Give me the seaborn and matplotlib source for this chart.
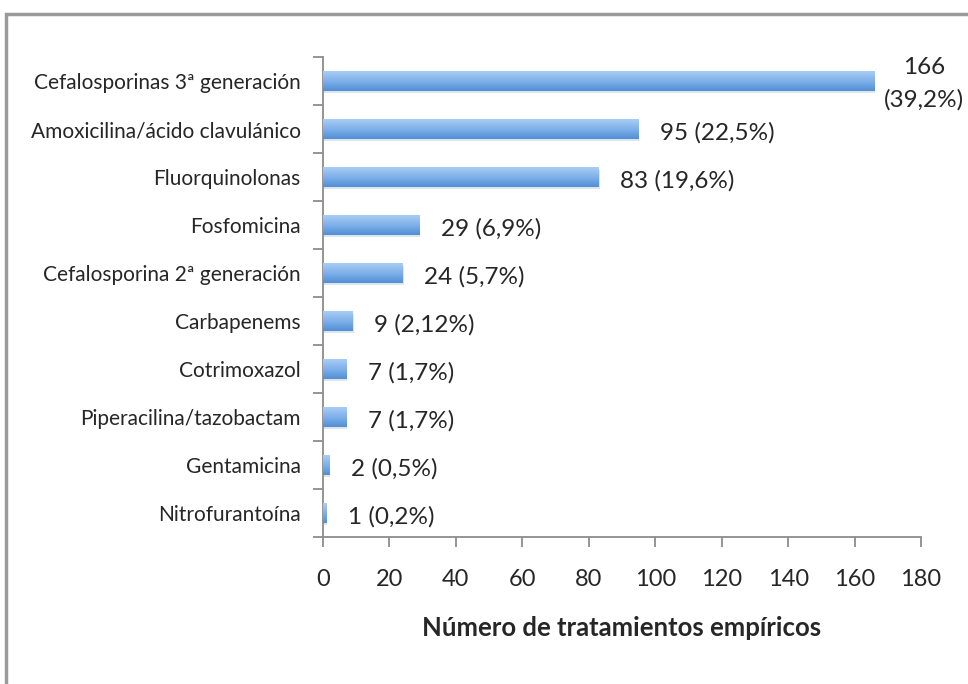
import numpy as np
import pandas as pd
import matplotlib
matplotlib.use("Agg")
import matplotlib.pyplot as plt
import seaborn as sns
from matplotlib.patches import Rectangle
from matplotlib.colors import LinearSegmentedColormap

categories = [
    "Cefalosporinas 3ª generación",
    "Amoxicilina/ácido clavulánico",
    "Fluorquinolonas",
    "Fosfomicina",
    "Cefalosporina 2ª generación",
    "Carbapenems",
    "Cotrimoxazol",
    "Piperacilina/tazobactam",
    "Gentamicina",
    "Nitrofurantoína",
]
counts = [166, 95, 83, 29, 24, 9, 7, 7, 2, 1]
percents = ["39,2%", "22,5%", "19,6%", "6,9%", "5,7%", "2,12%", "1,7%", "1,7%", "0,5%", "0,2%"]
xticks = [0, 20, 40, 60, 80, 100, 120, 140, 160, 180]

df = pd.DataFrame({"categoria": categories, "n": counts})

sns.set_theme(style="white")
plt.rcParams["font.family"] = ["Lato", "DejaVu Sans"]

fig = plt.figure(figsize=(9.68, 6.84), dpi=100)
ax = fig.add_axes([323 / 968, 1 - 537 / 684, (921 - 323) / 968, (537 - 57) / 684])

sns.barplot(data=df, x="n", y="categoria", orient="h", ax=ax,
            color="#6fa6e6", width=0.4, saturation=1, edgecolor="none")

# vertical gradient fill with a soft drop shadow for each bar
grad = LinearSegmentedColormap.from_list("g", ["#a9cdf6", "#7fb0ea", "#4f8fd6"])
gimg = np.linspace(0, 1, 64).reshape(-1, 1)
for p in ax.patches:
    x0, y0 = p.get_x(), p.get_y()
    w, h = p.get_width(), p.get_height()
    shadow = Rectangle((x0 + 0.25, y0 + 0.06), w, h, color="#c8c8c8", alpha=0.5,
                       lw=0, zorder=1)
    ax.add_patch(shadow)
    p.set_zorder(2)
    im = ax.imshow(gimg, cmap=grad, aspect="auto", extent=(x0, x0 + w, y0 + h, y0),
                   zorder=3, interpolation="bilinear")
    im.set_clip_path(p)

ax.set_xlim(0, 180)
ax.set_ylim(len(categories) - 0.5, -0.5)
ax.set_xticks(xticks)
ax.set_xticklabels([str(t) for t in xticks], fontsize=17)
ax.tick_params(axis="x", which="major", length=7, width=1.3, color="#8c8c8c",
               direction="out", bottom=True, pad=16)
ax.set_yticks(range(len(categories)))
ax.set_yticklabels(categories, fontsize=15)
ax.tick_params(axis="y", which="major", length=0, pad=16)
ax.set_yticks(np.arange(-0.5, len(categories), 1), minor=True)
ax.tick_params(axis="y", which="minor", length=7, width=1.3, color="#8c8c8c",
               direction="out", left=True)
ax.set_ylabel("")
ax.set_xlabel("Número de tratamientos empíricos", fontsize=18.5, fontweight="bold",
              labelpad=19)

for s in ["top", "right"]:
    ax.spines[s].set_visible(False)
for s in ["left", "bottom"]:
    ax.spines[s].set_color("#8c8c8c")
    ax.spines[s].set_linewidth(1.3)

for i, (n, pct) in enumerate(zip(counts, percents)):
    if i == 0:
        ax.text(n + 15, i + 0.06, f"{n}\n({pct})", ha="center", va="center",
                fontsize=17.5, linespacing=1.65, clip_on=False)
    else:
        ax.text(n + 6.5, i + 0.08, f"{n} ({pct})", ha="left", va="center", fontsize=17.5)

# outer frame of the chart area
fig.patches.append(Rectangle((6 / 968, -0.1), 1.1, 1 - 14 / 684 + 0.1,
                             transform=fig.transFigure, fill=False,
                             edgecolor="#9a9a9a", lw=2.5))

fig.savefig("out.png", dpi=100)
